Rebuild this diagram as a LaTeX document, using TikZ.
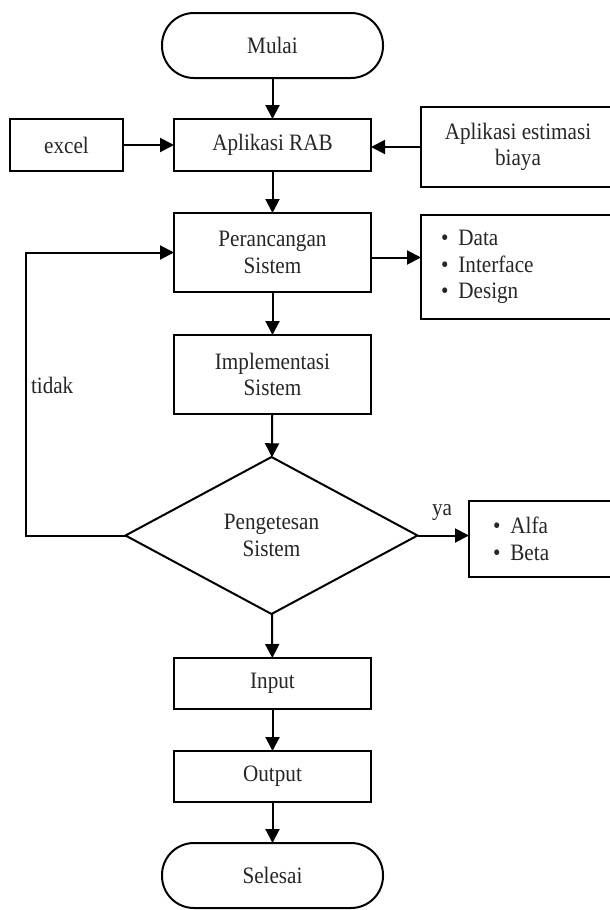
\documentclass[tikz,border=0pt]{standalone}
\usepackage{fontspec}
\setmainfont{Liberation Serif}[FakeStretch=0.9]
\usetikzlibrary{shapes.geometric,arrows.meta}
\begin{document}
\begin{tikzpicture}[x=1pt,y=-1pt,
  every node/.style={font=\fontsize{23.5}{26.5}\selectfont, text=black!85, outer sep=0pt},
  box/.style={draw, line width=2pt, align=center, inner sep=0pt},
  term/.style={draw, line width=2pt, rounded corners=32pt, inner sep=0pt,
    minimum width=221pt, minimum height=65pt},
  mainbox/.style={box, minimum width=197pt},
  listbox/.style={draw, line width=2pt, align=left, inner ysep=0pt},
  dia/.style={draw, diamond, line width=2pt, align=center, inner sep=0pt,
    minimum width=292pt, minimum height=157pt},
  arr/.style={line width=2pt, -{Triangle[length=14pt,width=14pt]}}
]
\useasboundingbox (0,0) rectangle (610,910);
\clip (0,0) rectangle (610,910);
\fill[white] (0,0) rectangle (610,910);

\node[term] (mulai) at (272.5,45.5) {Mulai};
\node[mainbox, minimum height=52pt] (rab) at (272.5,145) {Aplikasi RAB};
\node[box, minimum width=113pt, minimum height=52pt] (excel) at (66.5,145) {excel};
\node[box, minimum width=194pt, minimum height=80pt] (est) at (518,147) {Aplikasi estimasi\\biaya};
\node[mainbox, minimum height=79pt] (perc) at (272.5,252.5) {Perancangan\\Sistem};
\node[listbox, inner xsep=20pt, text width=154pt, minimum height=104pt] (bul) at (518,267)
  {\textbullet\hspace{10pt}Data\\\textbullet\hspace{10pt}Interface\\\textbullet\hspace{10pt}Design};
\node[mainbox, minimum height=79pt] (impl) at (272.5,374.5) {Implementasi\\Sistem};
\node[dia] (uji) at (271.5,535.5) {Pengetesan\\Sistem};
\node[listbox, inner xsep=24pt, text width=98pt, minimum height=76pt] (ab) at (542,539)
  {\textbullet\hspace{10pt}Alfa\\\textbullet\hspace{10pt}Beta};
\node[mainbox, minimum height=51pt] (input) at (272.5,683.5) {Input};
\node[mainbox, minimum height=51pt] (output) at (272.5,776.5) {Output};
\node[term] (selesai) at (272.5,875.5) {Selesai};

\node[anchor=west, inner sep=0pt] (tidak) at (31,385) {tidak};
\node[inner sep=0pt] (ya) at (442,513) {ya};
\coordinate (lc) at (26,0);

\draw[arr] (mulai) -- (rab);
\draw[arr] (excel) -- (rab);
\draw[arr] (est.west) -- (est.west -| rab.east);
\draw[arr] (rab) -- (perc);
\draw[arr] ([yshift=-5pt]perc.east) -- ([yshift=-5pt]perc.east -| bul.west);
\draw[arr] (perc) -- (impl);
\draw[arr] (impl) -- (uji);
\draw[arr] (uji.west) -- (uji.west -| lc) |- (perc.west);
\draw[arr] (uji.east) -- (uji.east -| ab.west);
\draw[arr] (uji) -- (input);
\draw[arr] (input) -- (output);
\draw[arr] (output) -- (selesai);
\end{tikzpicture}
\end{document}
